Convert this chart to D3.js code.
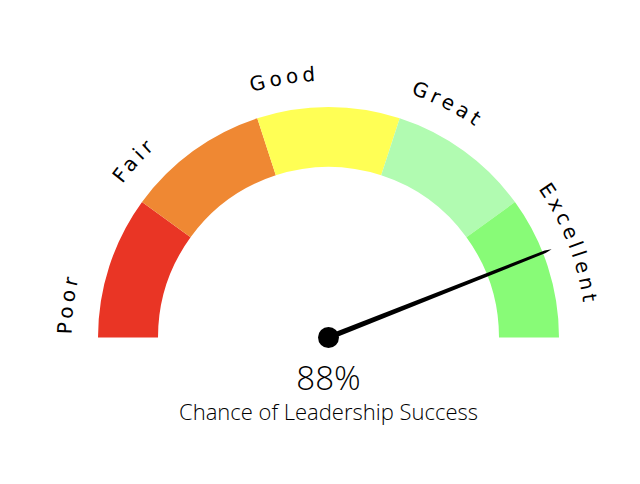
<!DOCTYPE html>
<html><head><meta charset="utf-8">
<script src="https://cdn.jsdelivr.net/npm/d3@7"></script>
<style>
html,body{margin:0;padding:0;background:#fff;}
svg{display:block;}
</style></head>
<body>
<script>
const categories = ["Poor", "Fair", "Good", "Great", "Excellent"];
const bandStarts = [0, 20, 40, 60, 80];
const bandEnds = [20, 40, 60, 80, 100];
const bandColors = ["#e93525", "#ef8833", "#ffff55", "#b1fbb1", "#88fb77"];
const gaugeValue = 88;
const valueLabel = "88%";
const subtitle = "Chance of Leadership Success";

const W = 640, H = 484;
const cx = 328.5, cy = 337.5;
const rOuter = 230.5, rInner = 170.5, rLabel = 257;

const svg = d3.select("body").append("svg").attr("width", W).attr("height", H);
const g = svg.append("g").attr("transform", `translate(${cx},${cy})`);

const angle = d3.scaleLinear().domain([0, 100]).range([-Math.PI / 2, Math.PI / 2]);

const arc = d3.arc().innerRadius(rInner).outerRadius(rOuter);
const bands = categories.map((c, i) => ({ name: c, start: bandStarts[i], end: bandEnds[i], color: bandColors[i] }));

g.selectAll("path.band").data(bands).enter().append("path")
  .attr("class", "band")
  .attr("d", d => arc({ startAngle: angle(d.start), endAngle: angle(d.end) }))
  .attr("fill", d => d.color);

const defs = svg.append("defs");
bands.forEach((d, i) => {
  const p = d3.path();
  p.arc(0, 0, rLabel, angle(d.start) - Math.PI / 2, angle(d.end) - Math.PI / 2, false);
  defs.append("path").attr("id", "lp" + i).attr("d", p.toString());
});

g.selectAll("text.lbl").data(bands).enter().append("text")
  .attr("class", "lbl")
  .style("font-family", "'DejaVu Sans', sans-serif")
  .style("font-size", "20px")
  .style("letter-spacing", "4px")
  .attr("fill", "#000")
  .append("textPath")
  .attr("href", (d, i) => "#lp" + i)
  .attr("startOffset", 3)
  .text(d => d.name);

// needle: tapered shape pointing at the value
const a = angle(gaugeValue);
const ux = Math.sin(a), uy = -Math.cos(a);   // direction
const px = Math.cos(a), py = Math.sin(a);    // perpendicular
const pts = [
  [2.8, 0], [1.4, 233], [0, 240], [-1.4, 233], [-2.8, 0]
].map(([w, l]) => [ux * l + px * w, uy * l + py * w]);
g.append("path")
  .attr("d", d3.line()(pts) + "Z")
  .attr("fill", "#000");
g.append("circle").attr("r", 10.5).attr("fill", "#000");

svg.append("text")
  .attr("x", cx).attr("y", 390)
  .attr("text-anchor", "middle")
  .style("font-family", "'Open Sans', sans-serif")
  .style("font-weight", 300)
  .style("font-size", "33px")
  .attr("fill", "#000")
  .text(valueLabel);

svg.append("text")
  .attr("x", cx).attr("y", 420)
  .attr("text-anchor", "middle")
  .style("font-family", "'Open Sans', sans-serif")
  .style("font-weight", 300)
  .style("font-size", "22px")
  .attr("fill", "#000")
  .text(subtitle);
</script>
</body></html>
